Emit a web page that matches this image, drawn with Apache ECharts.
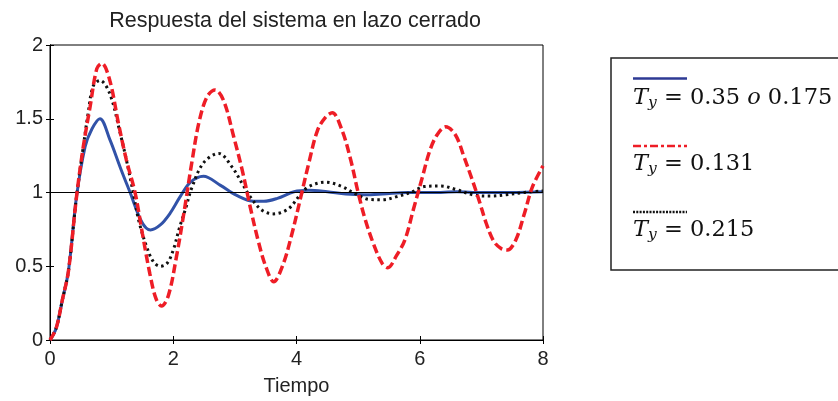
<html>
<head>
    <meta charset='utf-8'/>
    <title>Respuesta del sistema en lazo cerrado</title>
    <style>
        body {
            margin: 0;
            padding: 0;
            background: #fff;
        }

        #chart {
            width: 838px;
            height: 401px;
        }
    </style>
</head>
<body>
<div id='chart'></div>
<script type="text/javascript" src="https://cdn.jsdelivr.net/npm/echarts@6/dist/echarts.min.js"></script>
<script type="text/javascript">
    // datos (tiempo, respuesta)
    var tAzul = [0, 0.1, 0.2, 0.3, 0.43, 0.57, 0.68, 0.81, 0.97, 1.14, 1.3, 1.49, 1.63, 1.79, 1.95, 2.11, 2.28, 2.49, 2.76, 3.03, 3.31, 3.47, 3.69, 3.96, 4.2, 4.5, 4.8, 5.1, 5.4, 5.8, 6.2, 6.6, 7.0, 7.5, 8.0];
    var yAzul = [0, 0.08, 0.27, 0.47, 0.97, 1.31, 1.43, 1.5, 1.36, 1.17, 1.0, 0.8, 0.746, 0.78, 0.86, 0.97, 1.07, 1.11, 1.05, 0.98, 0.94, 0.94, 0.96, 1.005, 1.015, 1.005, 0.99, 0.985, 0.99, 1.0, 1.0, 1.005, 1.0, 1.0, 1.005];

    var tRojo = [0, 0.1, 0.2, 0.3, 0.43, 0.54, 0.65, 0.76, 0.84, 0.97, 1.11, 1.24, 1.38, 1.5, 1.62, 1.72, 1.81, 1.92, 2.05, 2.18, 2.3, 2.42, 2.55, 2.68, 2.82, 2.98, 3.12, 3.25, 3.38, 3.5, 3.63, 3.78, 3.92, 4.07, 4.2, 4.34, 4.47, 4.58, 4.74, 4.88, 5.0, 5.12, 5.26, 5.39, 5.48, 5.62, 5.76, 5.9, 6.04, 6.16, 6.28, 6.42, 6.58, 6.72, 6.84, 6.96, 7.08, 7.2, 7.32, 7.42, 7.56, 7.7, 7.83, 8.0];
    var yRojo = [0, 0.08, 0.27, 0.47, 0.97, 1.31, 1.58, 1.84, 1.876, 1.76, 1.47, 1.22, 1.0, 0.72, 0.45, 0.28, 0.23, 0.3, 0.56, 0.88, 1.2, 1.48, 1.65, 1.695, 1.62, 1.38, 1.15, 0.9, 0.67, 0.5, 0.395, 0.51, 0.71, 0.97, 1.2, 1.42, 1.51, 1.54, 1.42, 1.22, 1.0, 0.81, 0.64, 0.52, 0.49, 0.57, 0.68, 0.89, 1.1, 1.28, 1.39, 1.445, 1.39, 1.24, 1.1, 0.95, 0.79, 0.67, 0.62, 0.61, 0.68, 0.86, 1.04, 1.18];

    var tNegro = [0, 0.1, 0.2, 0.3, 0.43, 0.54, 0.62, 0.7, 0.81, 0.97, 1.14, 1.24, 1.35, 1.44, 1.57, 1.68, 1.79, 1.9, 2.0, 2.1, 2.2, 2.3, 2.49, 2.74, 2.95, 3.12, 3.25, 3.44, 3.63, 3.87, 4.07, 4.2, 4.47, 4.74, 4.96, 5.18, 5.39, 5.61, 5.88, 6.07, 6.34, 6.59, 6.88, 7.15, 7.4, 7.7, 8.0];
    var yNegro = [0, 0.08, 0.27, 0.47, 0.97, 1.31, 1.54, 1.72, 1.76, 1.67, 1.4, 1.22, 1.0, 0.81, 0.63, 0.53, 0.5, 0.52, 0.61, 0.76, 0.89, 1.03, 1.2, 1.265, 1.175, 1.06, 0.97, 0.88, 0.855, 0.89, 0.99, 1.04, 1.07, 1.04, 0.99, 0.953, 0.95, 0.97, 1.005, 1.04, 1.044, 1.02, 0.983, 0.976, 0.985, 1.0, 1.01];

    var xTicks = [0, 8, 2];
    var yTicks = [0, 2, 0.5];

    function pares(t, y) {
        var out = [];
        for (var i = 0; i < t.length; i++) {
            out.push([t[i], y[i]]);
        }
        return out;
    }

    var fuenteEje = 'Liberation Sans, Arial, sans-serif';
    var fuenteEq = 'DejaVu Serif, serif';

    // texto de leyenda con subindice (T_y = ...)
    function ecuacion(texto, y) {
        return {
            type: 'text',
            x: 633,
            y: y,
            style: {
                text: texto,
                verticalAlign: 'middle',
                fill: '#111',
                rich: {
                    t: {fontFamily: fuenteEq, fontStyle: 'italic', fontSize: 22.5, lineHeight: 26},
                    s: {fontFamily: fuenteEq, fontStyle: 'italic', fontSize: 15.5, lineHeight: 10, verticalAlign: 'bottom'},
                    n: {fontFamily: fuenteEq, fontSize: 22.5, lineHeight: 26}
                }
            }
        };
    }

    var chart = echarts.init(document.getElementById('chart'));

    var option = {
        animation: false,
        backgroundColor: '#fff',
        grid: {
            left: 50,
            right: 295,
            top: 45,
            bottom: 61,
            show: true,
            borderColor: '#000',
            borderWidth: 1
        },
        xAxis: [{
            type: 'value',
            min: xTicks[0],
            max: xTicks[1],
            interval: xTicks[2],
            name: 'Tiempo',
            nameLocation: 'middle',
            nameGap: 36,
            nameTextStyle: {fontFamily: fuenteEje, fontSize: 20, color: '#222'},
            axisLine: {lineStyle: {color: '#000', width: 1}},
            axisTick: {inside: true, length: 4, lineStyle: {color: '#000'}},
            axisLabel: {fontFamily: fuenteEje, fontSize: 20, color: '#222', margin: 9},
            splitLine: {show: false}
        }, {
            type: 'value',
            position: 'top',
            min: xTicks[0],
            max: xTicks[1],
            interval: xTicks[2],
            axisLine: {lineStyle: {color: '#000', width: 1}},
            axisTick: {inside: true, length: 4, lineStyle: {color: '#000'}},
            axisLabel: {show: false},
            splitLine: {show: false}
        }],
        yAxis: [{
            type: 'value',
            min: yTicks[0],
            max: yTicks[1],
            interval: yTicks[2],
            axisLine: {show: true, lineStyle: {color: '#000', width: 1}},
            axisTick: {show: true, inside: true, length: 4, lineStyle: {color: '#000'}},
            axisLabel: {fontFamily: fuenteEje, fontSize: 20, color: '#222', margin: 7},
            splitLine: {show: false}
        }, {
            type: 'value',
            position: 'right',
            min: yTicks[0],
            max: yTicks[1],
            interval: yTicks[2],
            axisLine: {show: true, lineStyle: {color: '#000', width: 1}},
            axisTick: {show: true, inside: true, length: 4, lineStyle: {color: '#000'}},
            axisLabel: {show: false},
            splitLine: {show: false}
        }],
        series: [
            {
                name: 'Ty = 0.35 o 0.175',
                type: 'line',
                data: pares(tAzul, yAzul),
                smooth: 0.35,
                showSymbol: false,
                lineStyle: {color: '#3152a8', width: 3},
                markLine: {
                    silent: true,
                    symbol: 'none',
                    label: {show: false},
                    lineStyle: {color: '#000', width: 1, type: 'solid'},
                    data: [{yAxis: 1}]
                },
                z: 3
            },
            {
                name: 'Ty = 0.215',
                type: 'line',
                data: pares(tNegro, yNegro),
                smooth: 0.35,
                showSymbol: false,
                lineStyle: {color: '#111', width: 3, type: [2.5, 3.5]},
                z: 4
            },
            {
                name: 'Ty = 0.131',
                type: 'line',
                data: pares(tRojo, yRojo),
                smooth: 0.35,
                showSymbol: false,
                lineStyle: {color: '#ee1d26', width: 3.5, type: [9, 4]},
                z: 5
            }
        ],
        graphic: [
            {
                type: 'text',
                x: 295,
                y: 21,
                style: {
                    text: 'Respuesta del sistema en lazo cerrado',
                    fontFamily: fuenteEje,
                    fontSize: 21.5,
                    fill: '#222',
                    align: 'center',
                    verticalAlign: 'middle'
                }
            },
            {
                type: 'rect',
                shape: {x: 611, y: 58, width: 240, height: 212},
                style: {fill: '#fff', stroke: '#222', lineWidth: 1.5}
            },
            {
                type: 'line',
                shape: {x1: 633, y1: 78.5, x2: 687, y2: 78.5},
                style: {stroke: '#2e3a94', lineWidth: 2.5}
            },
            {
                type: 'line',
                shape: {x1: 633, y1: 146, x2: 687, y2: 146},
                style: {stroke: '#ee1d26', lineWidth: 2.5, lineDash: [8, 3, 3, 3]}
            },
            {
                type: 'line',
                shape: {x1: 633, y1: 212, x2: 687, y2: 212},
                style: {stroke: '#111', lineWidth: 2.5, lineDash: [2, 1.3]}
            },
            ecuacion('{t|T}{s|y}{n| = 0.35 }{t|o}{n| 0.175}', 98),
            ecuacion('{t|T}{s|y}{n| = 0.131}', 164),
            ecuacion('{t|T}{s|y}{n| = 0.215}', 230)
        ]
    };

    chart.setOption(option);
</script>
</body>
</html>
